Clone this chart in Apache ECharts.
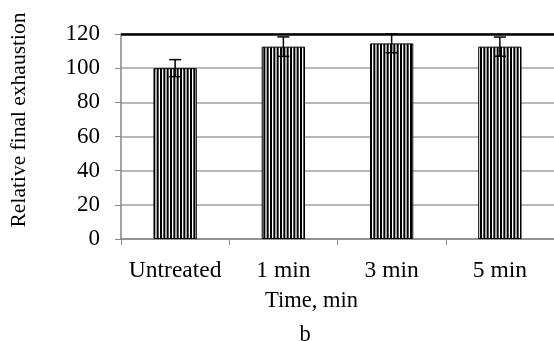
<!DOCTYPE html>
<html>
<head>
<meta charset="utf-8">
<script src="https://cdn.jsdelivr.net/npm/echarts@6/dist/echarts.min.js"></script>
<style>
html,body{margin:0;padding:0;background:#fff;}
#chart{width:554px;height:341px;}
</style>
</head>
<body>
<div id="chart"></div>
<script>
var categories = ['Untreated', '1 min', '3 min', '5 min'];
var values = [100, 112.6, 114.5, 112.6];
var errors = [5, 5.7, 5.5, 5.6];
var yTicks = [0, 20, 40, 60, 80, 100, 120];

var FONT = '"Liberation Serif", "Times New Roman", serif';

// vertical stripe pattern
var pc = document.createElement('canvas');
pc.width = 10; pc.height = 10;
var pctx = pc.getContext('2d');
pctx.fillStyle = '#fff';
pctx.fillRect(0, 0, 10, 10);
pctx.fillStyle = '#000';
for (var i = 0; i < 3; i++) {
  pctx.fillRect(i * 10 / 3, 0, 2, 10);
}

var chart = echarts.init(document.getElementById('chart'), null, {renderer: 'canvas'});

var errData = categories.map(function (c, i) {
  return [i, values[i] - errors[i], values[i] + errors[i]];
});

chart.setOption({
  animation: false,
  backgroundColor: '#fff',
  grid: {left: 121, top: 34, width: 433.5, height: 205, containLabel: false},
  xAxis: {
    type: 'category',
    data: categories,
    axisLine: {lineStyle: {color: '#868686', width: 1.5}},
    axisTick: {show: true, length: 6, lineStyle: {color: '#868686', width: 1}},
    axisLabel: {color: '#000', fontFamily: FONT, fontSize: 23.5, margin: 20, interval: 0},
    splitLine: {show: false}
  },
  yAxis: {
    type: 'value',
    min: yTicks[0],
    max: yTicks[yTicks.length - 1],
    interval: 20,
    axisLine: {show: true, lineStyle: {color: '#868686', width: 1.5}},
    axisTick: {show: true, length: 6, lineStyle: {color: '#868686', width: 1}},
    axisLabel: {color: '#000', fontFamily: FONT, fontSize: 23, margin: 21},
    splitLine: {show: true, lineStyle: {color: '#a0a0a0', width: 1.5}}
  },
  series: [
    {
      type: 'bar',
      data: values,
      barWidth: '40%',
      itemStyle: {
        color: {image: pc, repeat: 'repeat'},
        borderColor: '#000',
        borderWidth: 1
      },
      markLine: {
        silent: true,
        symbol: 'none',
        label: {show: false},
        lineStyle: {color: '#000', width: 2.5, type: 'solid'},
        data: [{yAxis: 120}]
      },
      z: 2
    },
    {
      type: 'custom',
      data: errData,
      z: 5,
      renderItem: function (params, api) {
        var x = api.value(0);
        var lo = api.coord([x, api.value(1)]);
        var hi = api.coord([x, api.value(2)]);
        var hw = 6;
        var st = {stroke: '#000', lineWidth: 1.5};
        return {
          type: 'group',
          children: [
            {type: 'line', shape: {x1: lo[0], y1: lo[1], x2: hi[0], y2: hi[1]}, style: st},
            {type: 'line', shape: {x1: hi[0] - hw, y1: hi[1], x2: hi[0] + hw, y2: hi[1]}, style: st},
            {type: 'line', shape: {x1: lo[0] - hw, y1: lo[1], x2: lo[0] + hw, y2: lo[1]}, style: st}
          ]
        };
      }
    }
  ],
  graphic: [
    {
      type: 'text',
      x: 19, y: 120,
      rotation: Math.PI / 2,
      style: {text: 'Relative final exhaustion', font: '21.5px ' + FONT, fill: '#000', textAlign: 'center', textVerticalAlign: 'middle'}
    },
    {
      type: 'text',
      x: 311.5, y: 301,
      style: {text: 'Time, min', font: '22.5px ' + FONT, fill: '#000', textAlign: 'center', textVerticalAlign: 'middle'}
    },
    {
      type: 'text',
      x: 305, y: 335,
      style: {text: 'b', font: '22.5px ' + FONT, fill: '#000', textAlign: 'center', textVerticalAlign: 'middle'}
    }
  ]
});
</script>
</body>
</html>
